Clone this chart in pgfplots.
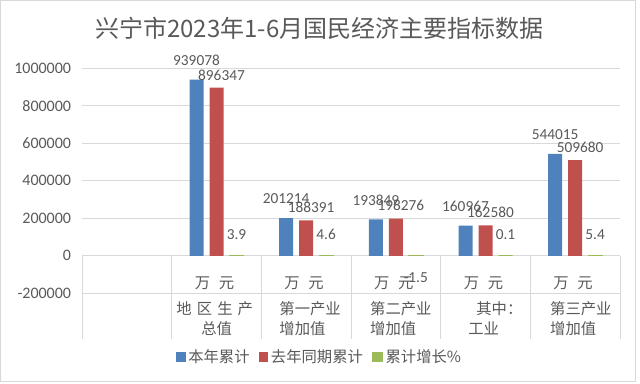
\documentclass[border=0pt]{standalone}
\usepackage{pgfplots}
\usepackage{pgfplotstable}
\pgfplotsset{compat=1.18}
\usepackage{fontspec}
\setmainfont{Carlito}
\newfontfamily\cjk{Noto Sans CJK SC}
\definecolor{txt}{HTML}{595959}
\definecolor{cA}{HTML}{4F81BD}
\definecolor{cB}{HTML}{C0504D}
\definecolor{cC}{HTML}{9BBB59}
\definecolor{gridc}{HTML}{D9D9D9}
\newcommand{\unitlbl}{万\hspace{6.5pt}元}
\pgfplotstableread{
x a b c
1 939078 896347 3.9
2 201214 188391 4.6
3 193849 198276 -1.5
4 160967 162580 0.1
5 544015 509680 5.4
}\datatable
\begin{document}
\begin{tikzpicture}
\begin{axis}[
  scale only axis, width=403.5pt, height=168.75pt,
  xmin=-0.5, xmax=5.5, ymin=-200000, ymax=1000000,
  clip=false,
  ybar, bar width=10.5pt, ybar=4.5pt,
  ytick={-200000,0,200000,400000,600000,800000,1000000},
  scaled y ticks=false,
  ymajorgrids, grid style={gridc, line width=0.75pt},
  axis line style={draw=none}, tick style={draw=none},
  yticklabel style={font=\fontsize{12}{14}\selectfont, text=txt, inner sep=0pt, xshift=-8pt,
    /pgf/number format/fixed, /pgf/number format/1000 sep={}, /pgf/number format/assume math mode=true},
  xtick={0,1,2,3,4,5},
  xticklabels={{},
    {\hspace*{3.4pt}地\hspace{3.8pt}区\hspace{3.8pt}生\hspace{3.8pt}产\\\hspace*{22pt}总值},
    {\hspace*{13.4pt}第一产业\\\hspace*{13.4pt}增加值},
    {\hspace*{14.2pt}第二产业\\\hspace*{14.2pt}增加值},
    {\hspace*{26.6pt}其中：\\\hspace*{20.6pt}工业},
    {\hspace*{14.7pt}第三产业\\\hspace*{14.7pt}增加值}},
  xticklabel style={anchor=north west, inner sep=0pt, xshift=-33.625pt, yshift=-1.5pt, align=left,
    font=\cjk\fontsize{11.5}{15.5}\selectfont, text=txt},
  extra x ticks={1,2,3,4,5},
  extra x tick labels={\unitlbl,\unitlbl,\unitlbl,\unitlbl,\unitlbl},
  extra x tick style={xticklabel style={anchor=center, xshift=32.1pt, yshift=13.5pt, align=center}},
  nodes near coords,
  every node near coord/.append style={font=\fontsize{11.5}{13}\selectfont, text=txt, inner xsep=0pt,
    /pgf/number format/fixed, /pgf/number format/precision=1, /pgf/number format/1000 sep={},
    /pgf/number format/assume math mode=true},
  legend style={draw=none, fill=none, at={(rel axis cs:0.4424,-0.2818)}, anchor=center,
    legend columns=3, font=\cjk\fontsize{11.5}{13}\selectfont, text=txt,
    /tikz/every even column/.append style={column sep=5pt}},
  legend cell align=left,
]
\addplot[fill=cA, draw=none, legend image code/.code={\fill[cA] (0pt,-3.6pt) rectangle (7pt,3.4pt);},
  every node near coord/.append style={inner ysep=10.5pt}] table[x=x,y=a] {\datatable};
\addlegendentry{本年累计}
\addplot[fill=cB, draw=none, legend image code/.code={\fill[cB] (0pt,-3.6pt) rectangle (7pt,3.4pt);},
  every node near coord/.append style={inner ysep=5.5pt, xshift=3.75pt}] table[x=x,y=b] {\datatable};
\addlegendentry{去年同期累计}
\addplot[fill=cC, draw=cC, line width=1pt, legend image code/.code={\fill[cC] (0pt,-3.6pt) rectangle (7pt,3.4pt);},
  every node near coord/.append style={inner ysep=12pt}] table[x=x,y=c] {\datatable};
\addlegendentry{累计增长\%}
% category table lines
\draw[gridc, line width=0.75pt] (axis cs:-0.5,0) -- (axis cs:-0.5,-443700);
\draw[gridc, line width=0.75pt] (axis cs:0.5,0) -- (axis cs:0.5,-443700);
\draw[gridc, line width=0.75pt] (axis cs:1.5,0) -- (axis cs:1.5,-443700);
\draw[gridc, line width=0.75pt] (axis cs:2.5,0) -- (axis cs:2.5,-443700);
\draw[gridc, line width=0.75pt] (axis cs:3.5,0) -- (axis cs:3.5,-443700);
\draw[gridc, line width=0.75pt] (axis cs:4.5,0) -- (axis cs:4.5,-443700);
\draw[gridc, line width=0.75pt] (axis cs:5.5,0) -- (axis cs:5.5,-443700);
% title
\node[anchor=base, font=\cjk\fontsize{18}{20}\selectfont, text=txt] at (rel axis cs:0.4414,1.1347) {兴宁市2023年1-6月国民经济主要指标数据};
% frame and bounding box
\draw[gridc, line width=0.75pt] (rel axis cs:-0.15056,-0.39289) rectangle (rel axis cs:1.02788,1.29911);
\path (rel axis cs:-0.15242,-0.40311) rectangle (rel axis cs:1.03717,1.30356);
\end{axis}
\end{tikzpicture}
\end{document}
